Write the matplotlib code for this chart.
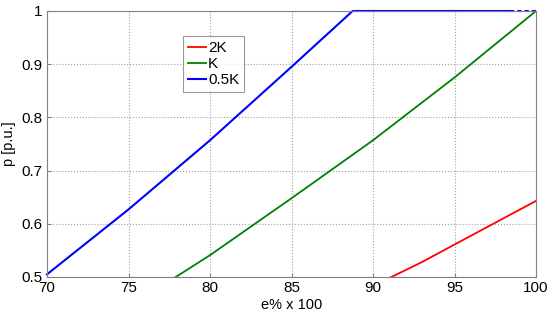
#/usr/bin/env python3

import matplotlib
matplotlib.use('Agg')
import matplotlib.pyplot as plt

plt.rcParams['font.family'] = ['Liberation Sans', 'DejaVu Sans']

# DATA
e_2k = [91.0, 93.0, 95.0, 97.5, 100.0]
p_2k = [0.498, 0.528, 0.561, 0.602, 0.643]

e_k = [77.8, 80.0, 85.0, 90.0, 95.0, 100.0]
p_k = [0.498, 0.541, 0.648, 0.757, 0.875, 1.0]

e_05k = [70.0, 75.0, 80.0, 85.0, 88.75, 98.4]
p_05k = [0.505, 0.627, 0.757, 0.895, 1.0, 1.0]

e_05k_dash = [98.4, 100.0]
p_05k_dash = [1.0, 1.0]

x_ticks = [70, 75, 80, 85, 90, 95, 100]
y_ticks = [0.5, 0.6, 0.7, 0.8, 0.9, 1.0]
y_labels = ['0.5', '0.6', '0.7', '0.8', '0.9', '1']


def visualize() -> None:
    fig = plt.figure(figsize=(5.5, 3.16), dpi=100)
    ax = fig.add_axes([47 / 550, 1 - 277 / 316, 489 / 550, 266 / 316])

    ax.plot(e_2k, p_2k, color='#ff0000', lw=1.3, label='2K', clip_on=True)
    ax.plot(e_k, p_k, color='#008000', lw=1.3, label='K', clip_on=True)
    ax.plot(e_05k, p_05k, color='#0000ff', lw=1.5, label='0.5K', clip_on=False)
    ax.plot(e_05k_dash, p_05k_dash, color='#0000ff', lw=1.5, ls=(0, (2, 1.5)),
            clip_on=False)

    ax.set_xlim(70, 100)
    ax.set_ylim(0.5, 1.0)
    ax.set_xticks(x_ticks)
    ax.set_yticks(y_ticks)
    ax.set_yticklabels(y_labels)
    ax.tick_params(direction='in', length=3, labelsize=11, color='#808080', pad=3)
    for s in ax.spines.values():
        s.set_color('#808080')
        s.set_linewidth(0.8)

    ax.grid(True, color='#a0a0a0', ls=':', lw=0.8)
    ax.set_xlabel('e% x 100', fontsize=10.5, labelpad=2)
    ax.set_ylabel('p [p.u.]', fontsize=10.5, labelpad=4)

    leg = ax.legend(loc='upper left', bbox_to_anchor=(0.278, 0.905),
                    fontsize=11, frameon=True, fancybox=False,
                    handlelength=1.2, handletextpad=0.15, borderpad=0.3,
                    labelspacing=0.15, borderaxespad=0)
    leg.get_frame().set_edgecolor('#808080')
    leg.get_frame().set_linewidth(0.8)

    fig.savefig('out.png', dpi=100)


if __name__ == "__main__":
    visualize()
